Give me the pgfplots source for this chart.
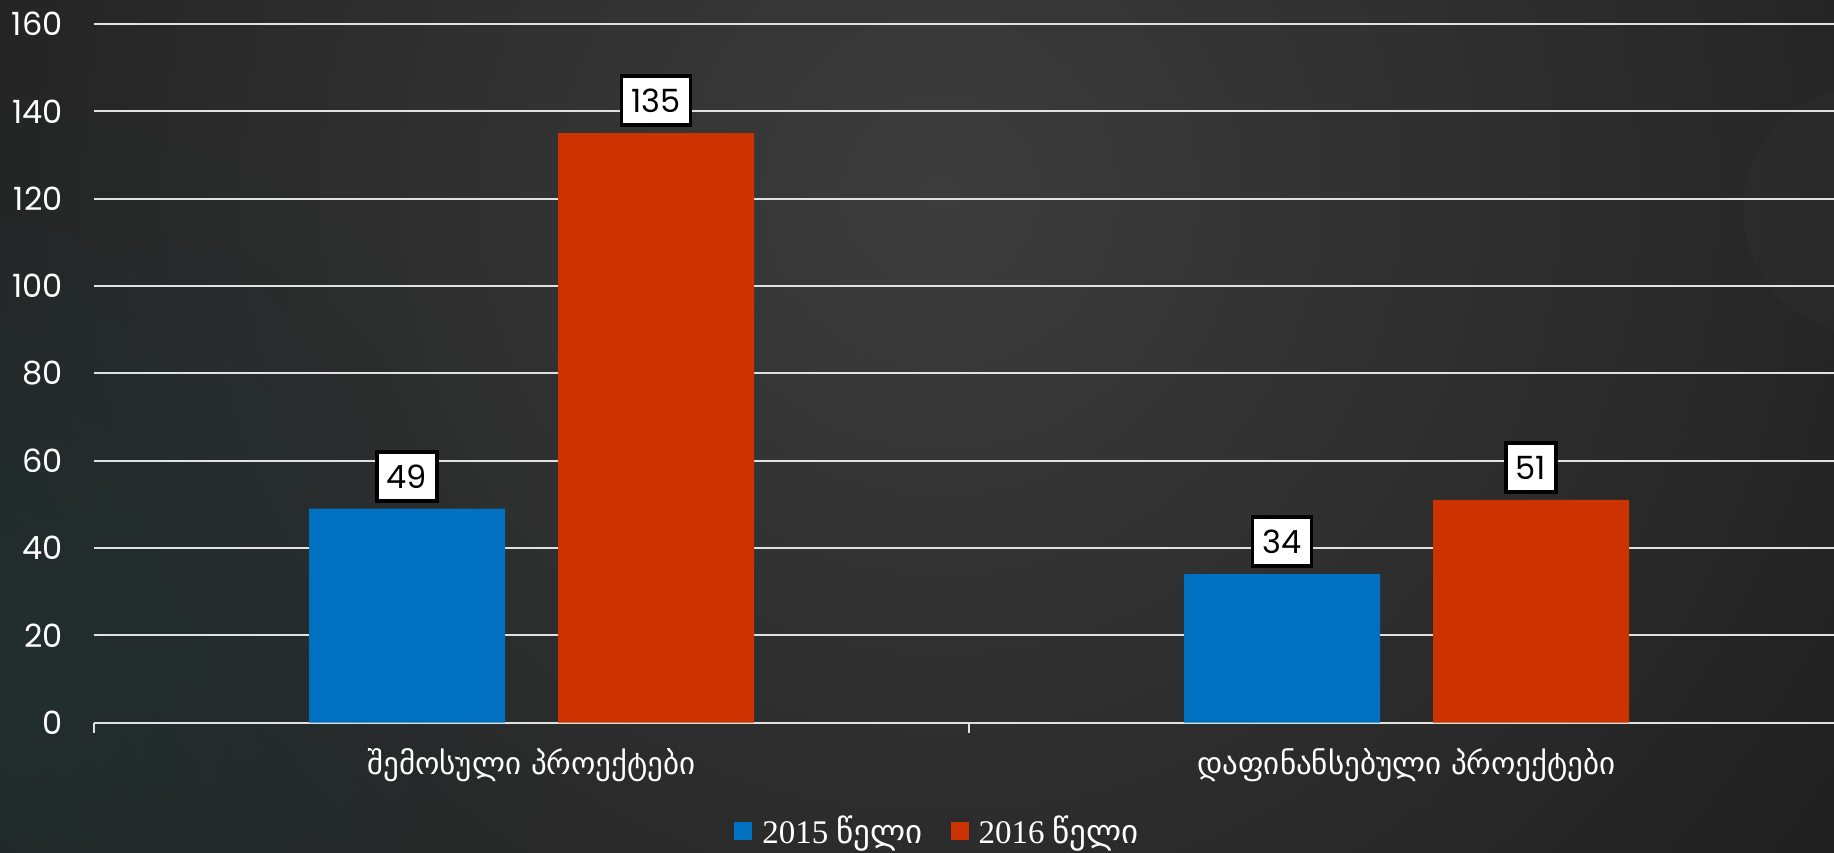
\documentclass[border=0pt]{standalone}
\usepackage{fontspec}
\setmainfont{Poppins}
\newfontfamily\geo{DejaVu Sans}
\newfontfamily\lserif{Liberation Serif}
\usepackage{pgfplots}
\pgfplotsset{compat=1.18}
\usetikzlibrary{fadings}
\tikzfading[name=myfade, inner color=transparent!0, outer color=transparent!100]
\definecolor{bblue}{RGB}{0,112,192}
\definecolor{rred}{RGB}{204,51,0}
\definecolor{bgdark}{RGB}{28,28,28}
\definecolor{bglight}{RGB}{60,60,60}
\definecolor{bgteal}{RGB}{34,50,50}
\definecolor{gridc}{RGB}{225,225,225}
\begin{document}
\begin{tikzpicture}
\path[use as bounding box] (0,0) rectangle (917pt,426pt);
\begin{scope}
\clip (0,0) rectangle (917pt,426pt);
\fill[bgdark] (0,0) rectangle (917pt,426pt);
\shade[inner color=bglight, outer color=bgdark] (470pt,330pt) circle (640pt);
\fill[bgteal, path fading=myfade, opacity=0.8] (0pt,90pt) circle (280pt);
\fill[white, opacity=0.015] (933.8pt,321pt) circle (62.3pt);
\end{scope}
\begin{axis}[
  at={(47pt,64.65pt)}, anchor=south west,
  scale only axis, width=875pt, height=349.35pt,
  xmin=-0.5, xmax=1.5, ymin=0, ymax=160,
  ybar=26.5pt, bar width=98pt,
  ytick={0,20,...,160},
  xtick={0,1},
  xticklabels={{\geo შემოსული პროექტები},{\geo დაფინანსებული პროექტები}},
  major tick length=0pt,
  extra x ticks={-0.5,0.5,1.5}, extra x tick labels={},
  extra x tick style={major tick length=5pt, tick align=outside, grid=none,
     tick style={draw=gridc, line width=1pt}},
  axis x line*=bottom, axis y line*=left,
  y axis line style={draw=none},
  x axis line style={draw=gridc, line width=1pt},
  ymajorgrids, grid style={draw=gridc, line width=1pt},
  /pgf/number format/assume math mode=true,
  yticklabel style={font=\fontsize{16}{16}\selectfont, text=white, inner xsep=0pt, xshift=-15.5pt},
  xticklabel style={font=\fontsize{15.5}{15.5}\selectfont, text=white, anchor=base, yshift=-26pt},
  nodes near coords,
  every node near coord/.append style={fill=white, draw=black, line width=1.8pt, text=black,
     font=\fontsize{16}{16}\selectfont, inner xsep=5pt, minimum height=24.5pt,
     anchor=south, outer sep=0pt, yshift=4pt},
  legend style={at={(0.4826,-0.1557)}, anchor=center, legend columns=2, draw=none, fill=none,
     text=white, font=\fontsize{16.5}{16.5}\selectfont,
     /tikz/every even column/.append style={column sep=12pt}},
  legend image code/.code={\fill[#1] (0pt,-4.5pt) rectangle (9pt,4.5pt); \path (12pt,0pt);},
]
\addplot[fill=bblue, draw=none] coordinates {(0,49) (1,34)};
\addlegendentry{\lserif 2015 {\geo წელი}}
\addplot[fill=rred, draw=none] coordinates {(0,135) (1,51)};
\addlegendentry{\lserif 2016 {\geo წელი}}
\end{axis}
\end{tikzpicture}
\end{document}
